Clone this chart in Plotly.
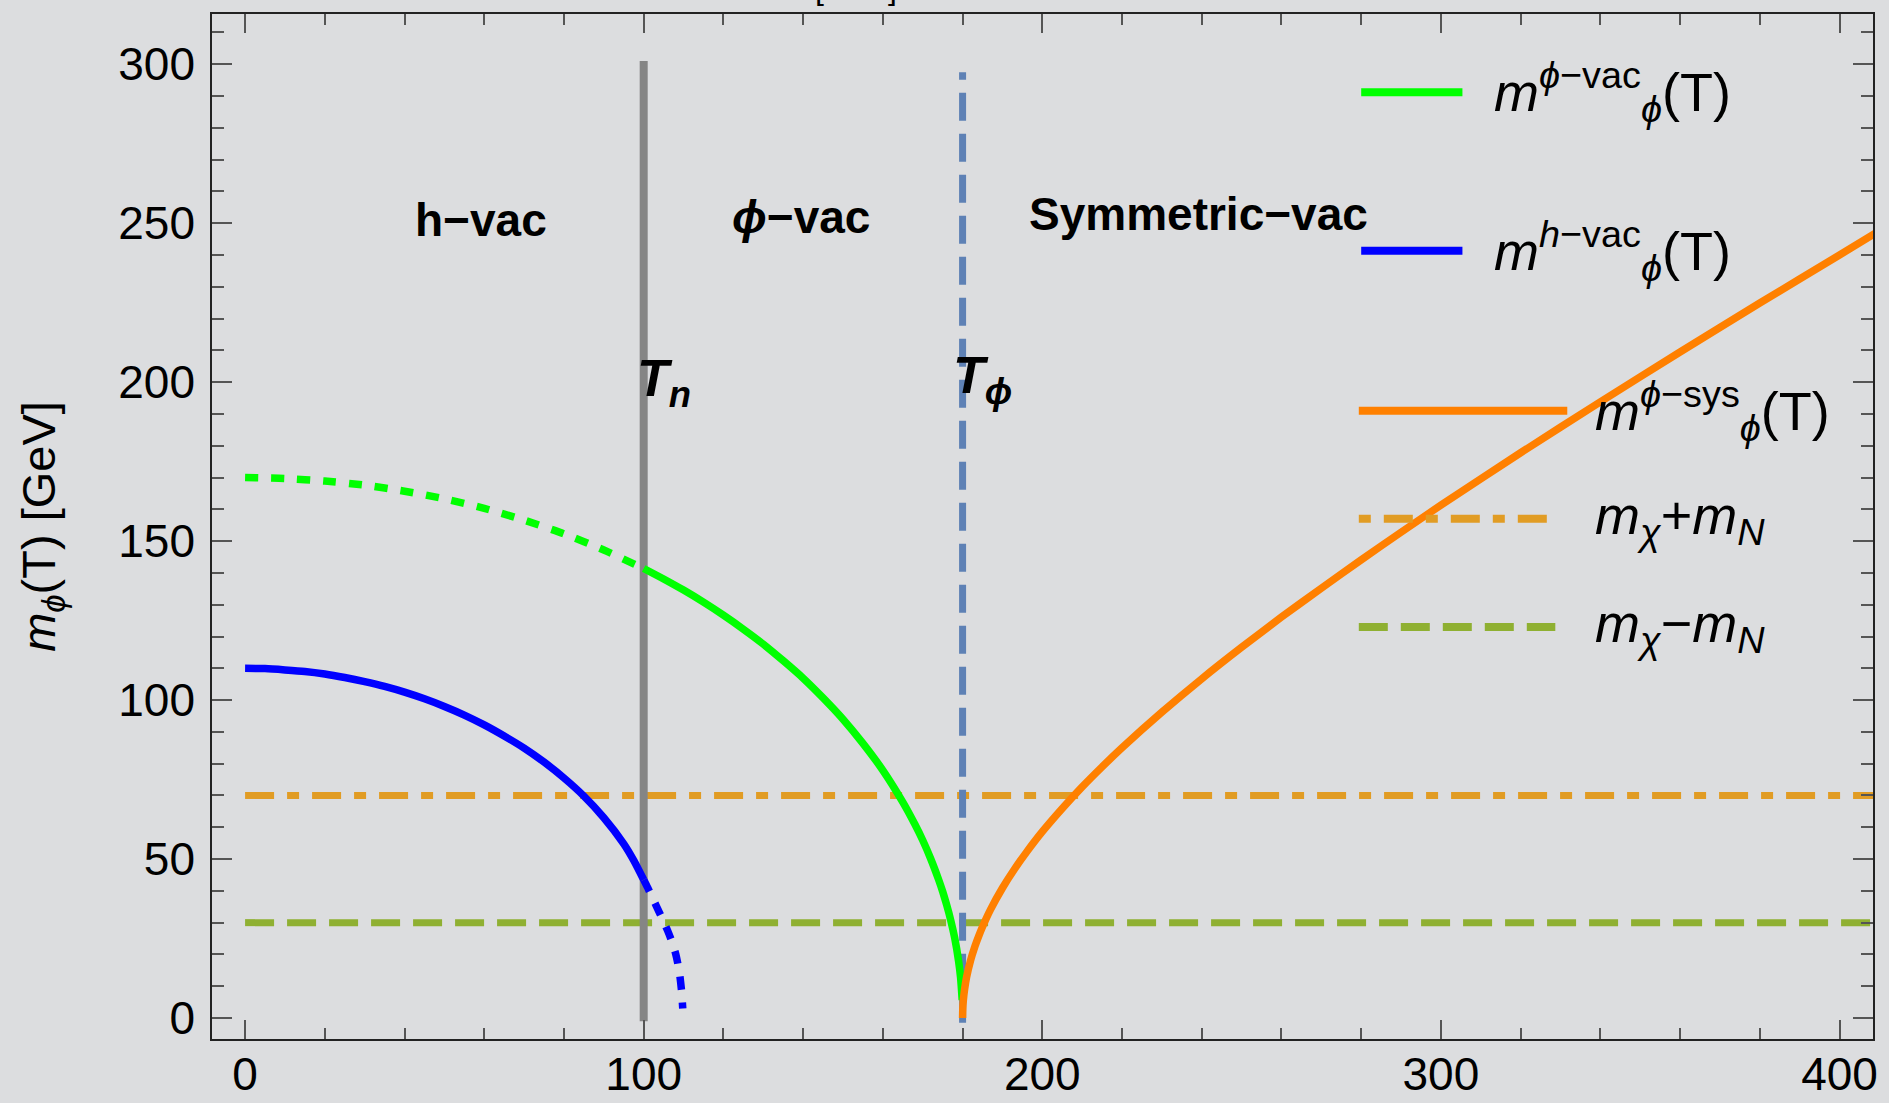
import plotly.graph_objects as go

# ---------------- data ----------------
green_T_dot = [0, 10, 20, 30, 40, 50, 60, 70, 80, 90, 100]
green_m_dot = [170, 169.7, 168.9, 167.6, 165.7, 163.3, 160.3, 156.6, 152.3, 147.2, 141.4]
green_T_sol = [100, 105, 110, 115, 120, 125, 130, 135, 140, 145, 150, 155, 160, 165, 168, 170,
               172, 174, 175, 176, 177, 178, 179, 179.5, 179.9]
green_m_sol = [141.4, 138.1, 134.6, 130.8, 126.7, 122.3, 117.6, 112.4, 106.9, 100.7, 94.0, 86.4, 77.9,
               67.9, 61.0, 55.9, 50.1, 43.5, 39.8, 35.6, 30.9, 25.3, 17.9, 12.7, 5.7]

blue_T_sol = [0, 5, 10, 15, 20, 25, 30, 35, 40, 45, 50, 55, 60, 65, 70, 75, 80, 85, 90, 95, 97.5, 100]
blue_m_sol = [110, 109.9, 109.5, 109.0, 108.2, 107.1, 105.8, 104.3, 102.5, 100.4, 98.0, 95.3, 92.2,
              88.7, 84.9, 80.5, 75.5, 69.8, 63.0, 54.8, 49.6, 43.5]
blue_T_dot = [100, 101, 102, 103, 104, 105, 106, 107, 108, 108.5, 109, 109.5, 109.8]
blue_m_dot = [43.5, 41.0, 38.3, 35.7, 33.0, 30.3, 27.5, 24.3, 20.3, 17.5, 14.0, 8.5, 3.0]

orange_T = [180, 180.05, 180.2, 180.5, 181, 182, 183, 184, 185, 187, 190, 193, 196, 200, 205, 210, 215,
            220, 230, 240, 250, 260, 270, 280, 290, 300, 320, 340, 360, 380, 400, 410]
orange_m = [0, 2.85, 5.7, 9.0, 12.8, 18.1, 22.2, 25.6, 28.7, 34.1, 40.9, 46.8, 52.1, 58.6, 65.9, 72.7,
            79.0, 85.0, 96.2, 106.7, 116.6, 126.1, 135.2, 144.1, 152.8, 161.3, 177.8, 193.8, 209.5,
            224.9, 240.0, 247.6]

m_plus = 70      # m_chi + m_N
m_minus = 30     # m_chi - m_N
T_n = 100
T_phi = 180
T_span = [0, 410]
Tn_line_y = [-1, 301]
Tphi_line_y = [-1.5, 297.5]

x_ticks = [0, 100, 200, 300, 400]
y_ticks = [0, 50, 100, 150, 200, 250, 300]

region_labels = ["h−vac", "<i>ϕ</i>−vac", "Symmetric−vac"]
region_x = [59.3, 139.4, 239.2]
region_y = [251, 252, 252.8]

legend_texts = [
    "<i>m</i><sup><i>ϕ</i>−vac</sup><sub><i>ϕ</i></sub>(T)",
    "<i>m</i><sup><i>h</i>−vac</sup><sub><i>ϕ</i></sub>(T)",
    "<i>m</i><sup><i>ϕ</i>−sys</sup><sub><i>ϕ</i></sub>(T)",
    "<i>m</i><sub><i>χ</i></sub>+<i>m</i><sub><i>N</i></sub>",
    "<i>m</i><sub><i>χ</i></sub>−<i>m</i><sub><i>N</i></sub>",
]
legend_y = [291.2, 241.3, 191.0, 157.0, 123.0]
legend_text_x = [312.7, 312.7, 338.1, 338.1, 338.1]
legend_line_x0 = [280, 280, 279.4, 279.4, 279.4]
legend_line_x1 = [305.4, 305.4, 331.7, 327.3, 328.7]

# ---------------- styles ----------------
BG = "#DCDDDF"
GREEN = "#00FF00"
BLUE = "#0000FF"
ORANGE = "#FF8000"
DASHDOT_C = "#E19C24"
OLIVE = "#8FB032"
STEEL = "#5E81B5"
GRAY = "#858585"
FONT = "Liberation Sans, Arial, sans-serif"
LW = 7.5

fig = go.Figure()

def line(x, y, color, width=LW, dash="solid", shape="linear"):
    fig.add_trace(go.Scatter(x=x, y=y, mode="lines", showlegend=False, hoverinfo="skip",
                             line=dict(color=color, width=width, dash=dash, shape=shape,
                                       smoothing=0.6 if shape == "spline" else None)))

# horizontal reference lines
line(T_span, [m_plus, m_plus], DASHDOT_C, 7, "29px,13px,12px,13px")
line(T_span, [m_minus, m_minus], OLIVE, 7, "29px,13px")

# vertical lines
line([T_n, T_n], Tn_line_y, GRAY, 8)
line([T_phi, T_phi], Tphi_line_y, STEEL, 7, "28px,13px")

# curves
line(green_T_dot, green_m_dot, GREEN, LW, "13px,13px", "spline")
line(green_T_sol, green_m_sol, GREEN, LW, "solid", "spline")
line(blue_T_sol, blue_m_sol, BLUE, LW, "solid", "spline")
line(blue_T_dot, blue_m_dot, BLUE, LW, "13px,13px", "spline")
line(orange_T, orange_m, ORANGE, LW, "solid", "spline")

# legend samples
leg_colors = [GREEN, BLUE, ORANGE, DASHDOT_C, OLIVE]
leg_dash = ["solid", "solid", "solid", "12px,13px,29px,13px", "29px,13px"]
for i in range(5):
    line([legend_line_x0[i], legend_line_x1[i]], [legend_y[i], legend_y[i]], leg_colors[i], 8, leg_dash[i])
    fig.add_annotation(x=legend_text_x[i], y=legend_y[i], text=legend_texts[i], showarrow=False,
                       xanchor="left", yanchor="middle", font=dict(family=FONT, size=54, color="black"))

# region labels
for t, x, y in zip(region_labels, region_x, region_y):
    fig.add_annotation(x=x, y=y, text="<b>" + t + "</b>", showarrow=False, xanchor="center",
                       yanchor="middle", font=dict(family=FONT, size=46, color="black"))

fig.add_annotation(x=97.8, y=200, text="<b><i>T<sub>n</sub></i></b>", showarrow=False,
                   xanchor="left", yanchor="middle", font=dict(family=FONT, size=52, color="black"))
fig.add_annotation(x=177.2, y=201, text="<b><i>T<sub>ϕ</sub></i></b>", showarrow=False,
                   xanchor="left", yanchor="middle", font=dict(family=FONT, size=52, color="black"))

# clipped label at the very top
fig.add_annotation(xref="paper", yref="paper", x=(856 - 212) / 1661, y=1, yshift=6,
                   text="[GeV]", showarrow=False, xanchor="center", yanchor="bottom",
                   font=dict(family=FONT, size=32, color="black"))

axis_common = dict(showgrid=False, zeroline=False, showline=True, linecolor="#222222", linewidth=1.6,
                   mirror="ticks", ticks="inside", tickcolor="#555555", tickwidth=1.6,
                   tickfont=dict(family=FONT, size=46, color="black"))

fig.update_xaxes(range=[-8.3, 408.4], tickvals=x_ticks, ticklen=19,
                 minor=dict(dtick=20, tick0=0, ticks="inside", ticklen=11, tickcolor="#555555", tickwidth=1.6),
                 ticklabelstandoff=-6, **axis_common)
fig.update_yaxes(range=[-6.6, 315.8], tickvals=y_ticks, ticklen=20,
                 minor=dict(dtick=10, tick0=0, ticks="inside", ticklen=12, tickcolor="#555555", tickwidth=1.6),
                 ticklabelstandoff=6,
                 title=dict(text="<i>m</i><sub><i>ϕ</i></sub>(T) [GeV]", font=dict(family=FONT, size=47, color="black"),
                            standoff=48),
                 **axis_common)

fig.update_layout(width=1889, height=1103, paper_bgcolor=BG, plot_bgcolor=BG,
                  margin=dict(l=212, r=16, t=14, b=64, autoexpand=False), showlegend=False)

fig.write_html("out.html")
